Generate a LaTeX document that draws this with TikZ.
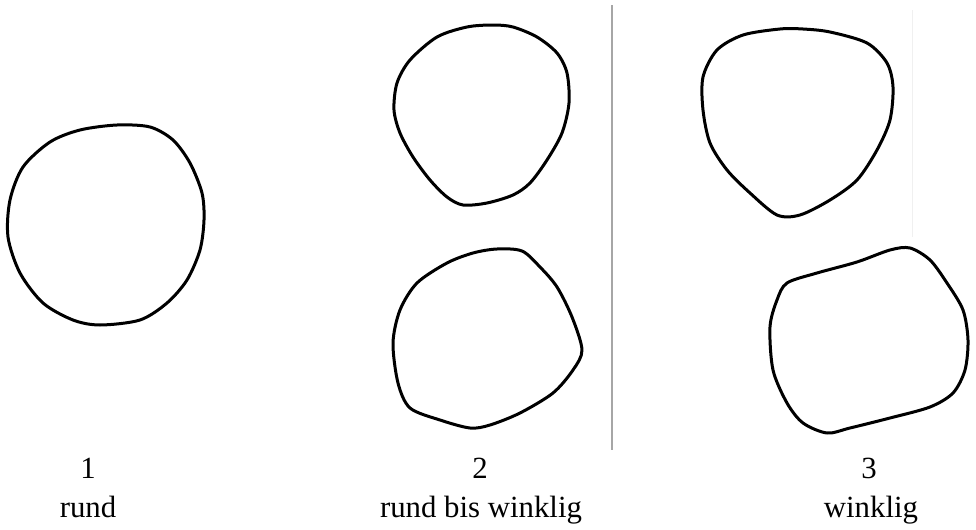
\documentclass[tikz,border=0pt]{standalone}
\usepackage{fontspec}
\setmainfont{Liberation Serif}

\tikzset{
  korn/.style={line width=1.5pt, line join=round},
  label text/.style={font=\fontsize{15.4}{18}\selectfont, inner sep=0pt, anchor=base},
}

\begin{document}
\begin{tikzpicture}[x=0.5pt, y=-0.5pt]
    % --- Rahmen ---
    \useasboundingbox (0,0) rectangle (976,530);

    % --- Trennlinien ---
    \draw[gray!70, line width=0.8pt] (612,5) -- (612,450);
    \draw[gray!12, line width=0.5pt] (912,10) -- (912,237);

    % --- 1: rund ---
    \draw[korn] plot[smooth cycle, tension=0.5] coordinates {
        (117,125) (150,127) (173,140) (190,163) (202,193) (204,220)
        (200,250) (187,280) (167,303) (140,320) (100,325) (73,320)
        (43,303) (20,273) (8,237) (10,200) (23,167) (50,142) (80,130)};

    % --- 2: rund bis winklig ---
    \draw[korn] plot[smooth cycle, tension=0.5] coordinates {
        (493,25) (467,27) (437,37) (410,60) (397,83) (394,110)
        (400,133) (413,157) (430,180) (447,197) (463,205) (487,203)
        (513,195) (530,183) (547,160) (562,133) (569,103) (567,73)
        (557,53) (537,37) (513,27)};
    \draw[korn] plot[smooth cycle, tension=0.5] coordinates {
        (497,249) (522,251) (540,267) (557,287) (572,317) (582,350)
        (573,370) (553,393) (520,413) (490,425) (470,428) (440,420)
        (410,408) (398,383) (393,343) (400,310) (417,283) (447,263)
        (473,253)};

    % --- 3: winklig ---
    \draw[korn] plot[smooth cycle, tension=0.5] coordinates {
        (780,29) (743,35) (717,50) (703,77) (703,110) (710,143)
        (727,170) (750,193) (777,215) (800,215) (830,200) (857,180)
        (877,150) (890,120) (893,87) (887,63) (867,43) (830,32)
        (803,29)};
    \draw[korn] plot[smooth cycle, tension=0.5] coordinates {
        (910,248) (930,260) (947,283) (963,310) (968,340) (965,370)
        (953,393) (930,407) (890,418) (850,428) (827,433) (803,423)
        (787,403) (773,370) (770,327) (777,300) (787,283) (817,273)
        (857,262) (890,250)};

    % --- Beschriftung ---
    \node[label text] (num1) at (88,478) {1};
    \node[label text] (lbl1) at (88,517) {rund};
    \node[label text] (num2) at (480,478) {2};
    \node[label text] (lbl2) at (481,517) {rund bis winklig};
    \node[label text] (num3) at (869,478) {3};
    \node[label text] (lbl3) at (871,517) {winklig};

\end{tikzpicture}
\end{document}
